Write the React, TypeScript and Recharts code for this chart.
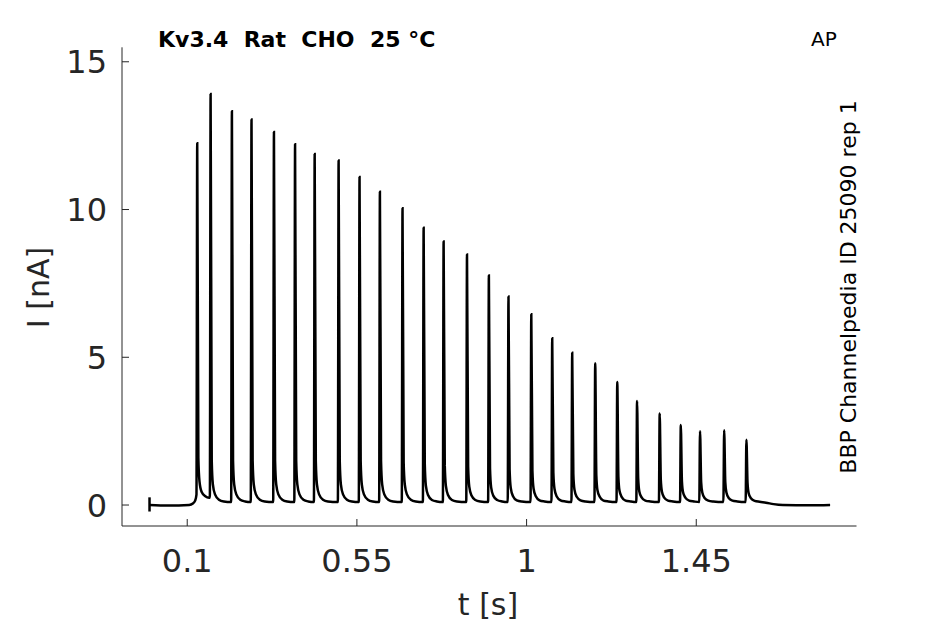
import React from "react";
import { LineChart, Line, XAxis, YAxis } from "recharts";

// Time ticks and current ticks
const xTicks = [0.1, 0.55, 1, 1.45];
const yTicks = [0, 5, 10, 15];

// Short vertical marker at trace start
const startMarker = [
  { t: 0, i: -0.22 },
  { t: 0, i: 0.26 },
];

const trace: [number, number][] = [
  [0.0, 0.0], [0.05, -0.02], [0.105, 0.0], [0.115, 0.05], [0.121, 0.15], [0.1245, 0.35],
  [0.1265, 12.24], [0.1295, 1.6], [0.1325, 0.8], [0.138, 0.45], [0.148, 0.3], [0.158, 0.25],
  [0.16, 0.25], [0.162, 13.91], [0.165, 1.5], [0.168, 0.7], [0.174, 0.35], [0.184, 0.18], [0.197, 0.12],
  [0.2165, 0.1], [0.2185, 13.33], [0.2215, 1.5], [0.2245, 0.7], [0.2305, 0.35], [0.2405, 0.18], [0.2535, 0.12],
  [0.2685, 0.1], [0.2705, 13.05], [0.2735, 1.5], [0.2765, 0.7], [0.2825, 0.35], [0.2925, 0.18], [0.3055, 0.12],
  [0.328, 0.1], [0.33, 12.62], [0.333, 1.5], [0.336, 0.7], [0.342, 0.35], [0.352, 0.18], [0.365, 0.12],
  [0.384, 0.1], [0.386, 12.21], [0.389, 1.5], [0.392, 0.7], [0.398, 0.35], [0.408, 0.18], [0.421, 0.12],
  [0.436, 0.1], [0.438, 11.88], [0.441, 1.5], [0.444, 0.7], [0.45, 0.35], [0.46, 0.18], [0.473, 0.12],
  [0.4995, 0.1], [0.5015, 11.66], [0.5045, 1.5], [0.5075, 0.7], [0.5135, 0.35], [0.5235, 0.18], [0.5365, 0.12],
  [0.555, 0.1], [0.557, 11.1], [0.56, 1.5], [0.563, 0.7], [0.569, 0.35], [0.579, 0.18], [0.592, 0.12],
  [0.609, 0.1], [0.611, 10.6], [0.614, 1.5], [0.617, 0.7], [0.623, 0.35], [0.633, 0.18], [0.646, 0.12],
  [0.669, 0.1], [0.671, 10.04], [0.674, 1.45], [0.677, 0.7], [0.683, 0.35], [0.693, 0.18], [0.706, 0.12],
  [0.725, 0.1], [0.727, 9.38], [0.73, 1.4], [0.733, 0.65], [0.739, 0.33], [0.749, 0.17], [0.762, 0.12],
  [0.778, 0.1], [0.78, 8.92], [0.783, 1.35], [0.786, 0.65], [0.792, 0.33], [0.802, 0.17], [0.815, 0.12],
  [0.84, 0.1], [0.842, 8.48], [0.845, 1.3], [0.848, 0.62], [0.854, 0.32], [0.864, 0.17], [0.877, 0.12],
  [0.898, 0.1], [0.9, 7.77], [0.903, 1.25], [0.906, 0.6], [0.912, 0.31], [0.922, 0.17], [0.935, 0.12],
  [0.95, 0.1], [0.952, 7.06], [0.955, 1.2], [0.958, 0.58], [0.964, 0.3], [0.974, 0.16], [0.987, 0.12],
  [1.0105, 0.1], [1.0125, 6.46], [1.0155, 1.15], [1.0185, 0.56], [1.0245, 0.3], [1.0345, 0.16], [1.0475, 0.12],
  [1.066, 0.1], [1.068, 5.64], [1.071, 1.1], [1.074, 0.55], [1.08, 0.29], [1.09, 0.16], [1.103, 0.12],
  [1.119, 0.1], [1.121, 5.15], [1.124, 1.05], [1.127, 0.52], [1.133, 0.28], [1.143, 0.16], [1.156, 0.12],
  [1.18, 0.1], [1.182, 4.8], [1.185, 1.0], [1.188, 0.5], [1.194, 0.28], [1.204, 0.15], [1.217, 0.12],
  [1.2385, 0.1], [1.2405, 4.16], [1.2435, 0.95], [1.2465, 0.48], [1.2525, 0.27], [1.2625, 0.15], [1.2755, 0.12],
  [1.291, 0.1], [1.293, 3.52], [1.296, 0.9], [1.299, 0.46], [1.305, 0.26], [1.315, 0.15], [1.328, 0.12],
  [1.351, 0.1], [1.353, 3.1], [1.356, 0.85], [1.359, 0.45], [1.365, 0.25], [1.375, 0.15], [1.388, 0.12],
  [1.407, 0.1], [1.409, 2.71], [1.412, 0.8], [1.415, 0.43], [1.421, 0.25], [1.431, 0.15], [1.444, 0.12],
  [1.458, 0.1], [1.46, 2.5], [1.463, 0.78], [1.466, 0.42], [1.472, 0.24], [1.482, 0.15], [1.495, 0.12],
  [1.522, 0.1], [1.524, 2.53], [1.527, 0.78], [1.53, 0.42], [1.536, 0.24], [1.546, 0.15], [1.559, 0.12],
  [1.581, 0.1], [1.583, 2.21], [1.586, 0.75], [1.589, 0.4], [1.595, 0.23], [1.605, 0.14], [1.618, 0.11],
  [1.635, 0.08], [1.655, 0.03], [1.68, 0.0], [1.75, -0.01], [1.805, 0.0],
];

const traceData = trace.map(([t, i]) => ({ t, i }));

const AX = "#262626";
const FONT = "'DejaVu Sans', sans-serif";

const XTick = (props: any) => {
  const { x, y, payload } = props;
  return (
    <g>
      <line x1={x} y1={y} x2={x} y2={y - 7} stroke={AX} strokeWidth={1} />
      <text x={x} y={y + 45.5} textAnchor="middle" fontSize={32} fill={AX} fontFamily={FONT}>
        {String(payload.value)}
      </text>
    </g>
  );
};

const YTick = (props: any) => {
  const { x, y, payload } = props;
  return (
    <g>
      <line x1={x} y1={y} x2={x + 7} y2={y} stroke={AX} strokeWidth={1} />
      <text x={x - 15} y={y + 11.7} textAnchor="end" fontSize={32} fill={AX} fontFamily={FONT}>
        {String(payload.value)}
      </text>
    </g>
  );
};

export default function App() {
  return (
    <div style={{ position: "absolute", left: 0, top: 0, width: 945, height: 624, background: "#fff" }}>
      <LineChart
        width={945}
        height={624}
        data={traceData}
        margin={{ top: 47.3, right: 88.5, bottom: 58, left: 62 }}
      >
        <XAxis
          dataKey="t"
          type="number"
          domain={[-0.073, 1.875]}
          ticks={xTicks}
          allowDataOverflow
          height={40}
          tickSize={0}
          tickMargin={0}
          tickLine={false}
          axisLine={{ stroke: AX, strokeWidth: 1 }}
          tick={<XTick />}
          interval={0}
        />
        <YAxis
          dataKey="i"
          type="number"
          domain={[-0.71, 15.49]}
          ticks={yTicks}
          allowDataOverflow
          width={60}
          tickSize={0}
          tickMargin={0}
          tickLine={false}
          axisLine={{ stroke: AX, strokeWidth: 1 }}
          tick={<YTick />}
          interval={0}
        />
        <Line
          data={startMarker}
          dataKey="i"
          type="linear"
          stroke="#000"
          strokeWidth={2.5}
          dot={false}
          isAnimationActive={false}
        />
        <Line
          dataKey="i"
          type="monotone"
          stroke="#000"
          strokeWidth={2.5}
          dot={false}
          isAnimationActive={false}
        />
      </LineChart>
      <svg
        width={945}
        height={624}
        style={{ position: "absolute", left: 0, top: 0, pointerEvents: "none" }}
      >
        <text x={158} y={46.5} fontSize={22} fontWeight="bold" fill="#000" fontFamily={FONT} style={{ whiteSpace: "pre" }}>
          {"Kv3.4  Rat  CHO  25 °C"}
        </text>
        <text x={811} y={45.5} fontSize={20} fill="#000" fontFamily={FONT}>
          AP
        </text>
        <text
          x={856}
          y={287}
          fontSize={22}
          fill="#000"
          fontFamily={FONT}
          textAnchor="middle"
          transform="rotate(-90 856 287)"
        >
          BBP Channelpedia ID 25090 rep 1
        </text>
        <text x={488} y={615} fontSize={30} fill={AX} fontFamily={FONT} textAnchor="middle">
          t [s]
        </text>
        <text
          x={48.5}
          y={287.5}
          fontSize={30}
          fill={AX}
          fontFamily={FONT}
          textAnchor="middle"
          transform="rotate(-90 48.5 287.5)"
        >
          I [nA]
        </text>
      </svg>
    </div>
  );
}
